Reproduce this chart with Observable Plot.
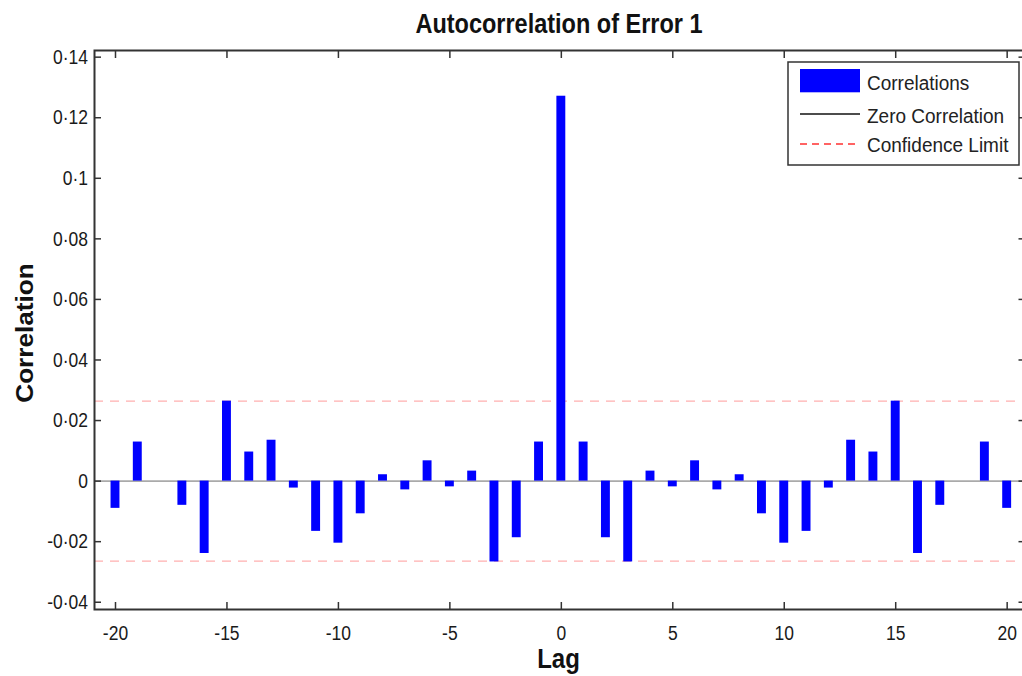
<!DOCTYPE html>
<html>
<head>
<meta charset="utf-8">
<script src="https://cdn.jsdelivr.net/npm/d3@7"></script>
<script src="https://cdn.jsdelivr.net/npm/@observablehq/plot@0.6"></script>
<style>
  html, body { margin: 0; padding: 0; background: #fff; overflow: hidden; }
  #wrap { position: relative; width: 1022px; height: 676px; overflow: hidden;
          font-family: "Liberation Sans", Arial, Helvetica, sans-serif; }
  #chart { position: absolute; left: 0; top: 0; width: 1030px; }
  #chart svg { max-width: none !important; }
  #overlay { position: absolute; left: 0; top: 0; pointer-events: none; }
</style>
</head>
<body>
<div id="wrap">
  <div id="chart"></div>
  <svg id="overlay" width="1022" height="676"></svg>
</div>
<script>
// ---- data ----
const lags = [-20,-19,-18,-17,-16,-15,-14,-13,-12,-11,-10,-9,-8,-7,-6,-5,-4,-3,-2,-1,0,
              1,2,3,4,5,6,7,8,9,10,11,12,13,14,15,16,17,18,19,20];
const correlations = [
  -0.0090, 0.0129, 0.0000, -0.0080, -0.0239, 0.0264, 0.0096, 0.0135, -0.0023, -0.0166,
  -0.0205, -0.0108, 0.0021, -0.0029, 0.0067, -0.0019, 0.0033, -0.0267, -0.0187, 0.0129,
  0.1271,
  0.0129, -0.0187, -0.0267, 0.0033, -0.0019, 0.0067, -0.0029, 0.0021, -0.0108, -0.0205,
  -0.0166, -0.0023, 0.0135, 0.0096, 0.0264, -0.0239, -0.0080, 0.0000, 0.0129, -0.0090
];
const confidenceLimits = [0.0264, -0.0264];
const zeroLine = [0];
const xTicks = [-20, -15, -10, -5, 0, 5, 10, 15, 20];
const yTicks = [-0.04, -0.02, 0, 0.02, 0.04, 0.06, 0.08, 0.1, 0.12, 0.14];
const titleText = "Autocorrelation of Error 1";
const xLabel = "Lag";
const yLabel = "Correlation";
const legendItems = ["Correlations", "Zero Correlation", "Confidence Limit"];

const table = lags.map((lag, i) => ({lag, value: correlations[i]}));
const halfW = 0.2;
const fmtY = d => String(+d.toFixed(2)).replace(".", "\u00b7");
const fmtX = d => String(d);

const plot = Plot.plot({
  width: 1030,
  height: 676,
  marginLeft: 94,
  marginRight: 5.5,
  marginTop: 50,
  marginBottom: 67,
  style: {fontFamily: '"Liberation Sans", Arial, Helvetica, sans-serif', fontSize: "17.5px", color: "#1a1a1a", background: "transparent", maxWidth: "none"},
  x: {domain: [-20.942, 20.80], label: null},
  y: {domain: [-0.0424, 0.1422], label: null},
  marks: [
    Plot.ruleY(confidenceLimits, {y: d => d, stroke: "#ffb0b0", strokeWidth: 1.2, strokeDasharray: "9,7"}),
    Plot.ruleY(zeroLine, {y: d => d, stroke: "#aaaaaa", strokeWidth: 1.6}),
    Plot.rectY(table, {x1: d => d.lag - halfW, x2: d => d.lag + halfW, y1: 0, y2: "value", fill: "#0000ff"}),
    Plot.frame({stroke: "#333", strokeWidth: 2}),
    Plot.axisX(xTicks, {anchor: "bottom", tickSize: -7, tickPadding: 23, tickFormat: fmtX, stroke: "#333", strokeWidth: 1.5, label: null, fill: "#1a1a1a"}),
    Plot.axisX(xTicks, {anchor: "top", tickSize: -7, tickFormat: () => "", stroke: "#333", strokeWidth: 1.5, label: null}),
    Plot.axisY(yTicks, {anchor: "left", tickSize: -7, tickPadding: 13.5, tickFormat: fmtY, stroke: "#333", strokeWidth: 1.5, label: null, fill: "#1a1a1a"}),
    Plot.axisY(yTicks, {anchor: "right", tickSize: -7, tickFormat: () => "", stroke: "#333", strokeWidth: 1.5, label: null})
  ]
});
plot.style.maxWidth = "none";
document.getElementById("chart").appendChild(plot);

// vertical stretch of tick labels, as in the reference
plot.querySelectorAll('g[aria-label="x-axis tick label"] text, g[aria-label="y-axis tick label"] text').forEach(t => {
  const tr = t.getAttribute("transform");
  if (tr) t.setAttribute("transform", tr + " scale(1,1.2)");
});

// ---- overlay: title, axis labels, legend ----
const ov = d3.select("#overlay");
const ff = '"Liberation Sans", Arial, Helvetica, sans-serif';

ov.append("text").attr("transform", "translate(559,33.3) scale(1,1.2)")
  .attr("text-anchor", "middle").attr("font-family", ff).attr("font-weight", "bold")
  .attr("font-size", 23.5).attr("fill", "#111").text(titleText);

ov.append("text").attr("transform", "translate(558.5,668) scale(1,1.13)")
  .attr("text-anchor", "middle").attr("font-family", ff).attr("font-weight", "bold")
  .attr("font-size", 24).attr("fill", "#111").text(xLabel);

ov.append("text").attr("transform", "translate(33.3,333) rotate(-90) scale(1.09,1)")
  .attr("text-anchor", "middle").attr("font-family", ff).attr("font-weight", "bold")
  .attr("font-size", 24).attr("fill", "#111").text(yLabel);

const lg = ov.append("g");
lg.append("rect").attr("x", 788).attr("y", 62).attr("width", 231).attr("height", 103)
  .attr("fill", "#fff").attr("stroke", "#333").attr("stroke-width", 1.5);
lg.append("rect").attr("x", 800).attr("y", 69).attr("width", 60).attr("height", 23.3).attr("fill", "#0000ff");
lg.append("line").attr("x1", 800).attr("x2", 860).attr("y1", 114).attr("y2", 114)
  .attr("stroke", "#111").attr("stroke-width", 1.3);
lg.append("line").attr("x1", 800).attr("x2", 860).attr("y1", 144).attr("y2", 144)
  .attr("stroke", "#ff3030").attr("stroke-width", 1.3).attr("stroke-dasharray", "7,5");
[90, 123, 152].forEach((yb, i) => {
  lg.append("text").attr("transform", `translate(867,${yb}) scale(1,1.06)`)
    .attr("font-family", ff).attr("font-size", 19).attr("fill", "#222").text(legendItems[i]);
});
</script>
</body>
</html>
